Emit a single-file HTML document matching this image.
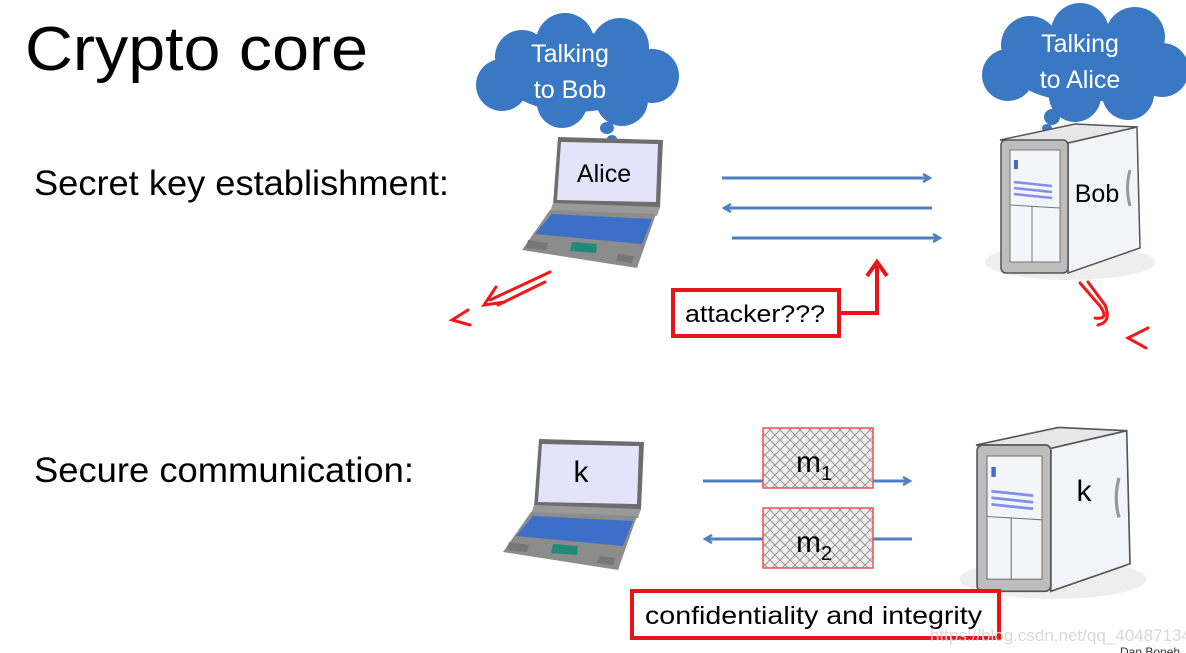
<!DOCTYPE html>
<html><head><meta charset="utf-8"><style>
html,body{margin:0;padding:0;background:#fff;}
svg{display:block;font-family:"Liberation Sans","DejaVu Sans",sans-serif;}
</style></head><body>
<svg width="1186" height="653" viewBox="0 0 1186 653" xmlns="http://www.w3.org/2000/svg">
<defs>
<marker id="ah" markerWidth="10" markerHeight="10" refX="8" refY="5" orient="auto" markerUnits="userSpaceOnUse"><path d="M1,1 L8,5 L1,9" fill="none" stroke="#4f7fbf" stroke-width="2.5"/></marker>
<pattern id="hatch" width="10" height="10" patternUnits="userSpaceOnUse"><rect width="10" height="10" fill="#eee"/><path d="M0,0 L10,10 M10,0 L0,10" stroke="#999" stroke-width="1"/></pattern>
<g id="laptop">
<polygon points="558,137 663,140 660,208 553,205" fill="#6d6d6d"/>
<polygon points="561,142 658,144 656,202 557,200" fill="#e3e3fb"/>
<polygon points="553,203 660,207 657,216 550,212" fill="#9a9a9a"/>
<polygon points="550,210 656,214 637,268 522,250" fill="#8c8c8c"/>
<polygon points="552,214 652,219 642,244 535,234" fill="#3d6fc8"/>
<polygon points="572,242 597,244 596,253 570,251" fill="#1f8a78"/>
<polygon points="528,240 548,243 546,250 526,248" fill="#777"/>
<polygon points="618,254 634,256 632,263 616,261" fill="#777"/>
</g>
<g id="server">
<ellipse cx="1070" cy="262" rx="85" ry="18" fill="#eee"/>
<polygon points="1068,143 1137,127 1140,248 1068,273" fill="#f1f4f9" stroke="#555" stroke-width="1.5"/>
<polygon points="1000,140 1068,143 1137,127 1075,124" fill="#e7e7e7" stroke="#555" stroke-width="1.5"/>
<rect x="1001" y="140" width="67" height="133" rx="5" fill="#bdbdbd" stroke="#555" stroke-width="1.5"/>
<rect x="1010" y="150" width="50" height="112" fill="#f3f5f8" stroke="#777"/>
<line x1="1010" y1="205" x2="1060" y2="208" stroke="#777"/>
<line x1="1032" y1="206" x2="1032" y2="262" stroke="#777"/>
<rect x="1014" y="160" width="4" height="9" fill="#3d6fc8"/>
<g stroke="#7f8fea" stroke-width="2.5"><line x1="1014" y1="182" x2="1052" y2="186"/><line x1="1014" y1="188" x2="1052" y2="192"/><line x1="1014" y1="194" x2="1052" y2="198"/></g>
<path d="M1130,170 q-5,18 0,36" stroke="#999" stroke-width="3" fill="none"/>
</g>
</defs>

<text x="25" y="70" font-size="62" fill="#000" textLength="343" lengthAdjust="spacingAndGlyphs">Crypto core</text>
<text x="34" y="195" font-size="35" fill="#000" textLength="415" lengthAdjust="spacingAndGlyphs">Secret key establishment:</text>
<text x="34" y="482" font-size="35" fill="#000" textLength="380" lengthAdjust="spacingAndGlyphs">Secure communication:</text>

<g fill="#3b78c3">
<circle cx="522" cy="57" r="27"/><circle cx="565" cy="42" r="29"/><circle cx="620" cy="47" r="29"/><circle cx="652" cy="76" r="27"/><circle cx="622" cy="100" r="26"/><circle cx="562" cy="103" r="25"/><circle cx="502" cy="85" r="26"/><ellipse cx="575" cy="72" rx="75" ry="40"/>
<ellipse cx="607" cy="128" rx="7" ry="6"/><ellipse cx="612" cy="139" rx="5" ry="4"/>
<circle cx="1030" cy="45" r="29"/><circle cx="1080" cy="32" r="29"/><circle cx="1135" cy="37" r="30"/><circle cx="1162" cy="70" r="27"/><circle cx="1128" cy="94" r="26"/><circle cx="1075" cy="96" r="26"/><circle cx="1008" cy="75" r="26"/><ellipse cx="1085" cy="62" rx="80" ry="40"/>
<ellipse cx="1052" cy="117" rx="8" ry="8"/><ellipse cx="1047" cy="128" rx="5" ry="4"/>
</g>
<g fill="#fff" font-size="25" text-anchor="middle">
<text x="570" y="62">Talking</text><text x="570" y="98">to Bob</text>
<text x="1080" y="52">Talking</text><text x="1080" y="88">to Alice</text>
</g>

<use href="#laptop"/>
<text x="604" y="182" font-size="25" text-anchor="middle">Alice</text>
<use href="#server"/>
<text x="1097" y="202" font-size="25" text-anchor="middle">Bob</text>

<g stroke="#4f7fbf" stroke-width="3" fill="none">
<line x1="722" y1="178" x2="930" y2="178" marker-end="url(#ah)"/>
<line x1="932" y1="208" x2="724" y2="208" marker-end="url(#ah)"/>
<line x1="732" y1="238" x2="940" y2="238" marker-end="url(#ah)"/>
</g>

<rect x="673" y="290" width="166" height="46" fill="#fff" stroke="#e8141b" stroke-width="4"/>
<text x="685" y="322" font-size="24" textLength="140" lengthAdjust="spacingAndGlyphs">attacker???</text>
<path d="M839,313 H877 V266" stroke="#e8141b" stroke-width="4" fill="none"/>
<path d="M867,276 L877,262 L887,276" stroke="#e8141b" stroke-width="4" fill="none"/>

<g stroke="#f01818" stroke-width="3" fill="none" stroke-linecap="round">
<path d="M550,272 L490,300 M545,282 L498,305 M496,287 L484,305 L505,302"/>
<path d="M468,310 L452,320 L470,325"/>
<path d="M1080,283 L1100,306 Q1110,320 1095,318 M1088,282 L1105,305 Q1112,322 1098,325"/>
<path d="M1148,328 L1128,338 L1146,348"/>
</g>

<use href="#laptop" transform="translate(-19,302)"/>
<text x="581" y="482" font-size="30" text-anchor="middle">k</text>
<use href="#server" transform="translate(-124,291) scale(1.1)"/>
<text x="1084" y="501" font-size="30" text-anchor="middle">k</text>

<g stroke="#4f7fbf" stroke-width="3" fill="none">
<line x1="703" y1="481" x2="910" y2="481" marker-end="url(#ah)"/>
<line x1="912" y1="539" x2="705" y2="539" marker-end="url(#ah)"/>
</g>
<rect x="763" y="428" width="110" height="60" fill="url(#hatch)" stroke="#f05050" stroke-width="1.5"/>
<rect x="763" y="508" width="110" height="60" fill="url(#hatch)" stroke="#f05050" stroke-width="1.5"/>
<text x="796" y="472" font-size="30">m<tspan font-size="20" dy="8">1</tspan></text>
<text x="796" y="552" font-size="30">m<tspan font-size="20" dy="8">2</tspan></text>

<rect x="632" y="591" width="367" height="47" fill="#fff" stroke="#e8141b" stroke-width="4"/>
<text x="645" y="624" font-size="25" textLength="337" lengthAdjust="spacingAndGlyphs">confidentiality and integrity</text>
<text x="930" y="641" font-size="17" fill="#d8d8d8">https://blog.csdn.net/qq_40487134</text>
<text x="1120" y="656" font-size="12" fill="#333">Dan Boneh</text>
</svg>
</body></html>
